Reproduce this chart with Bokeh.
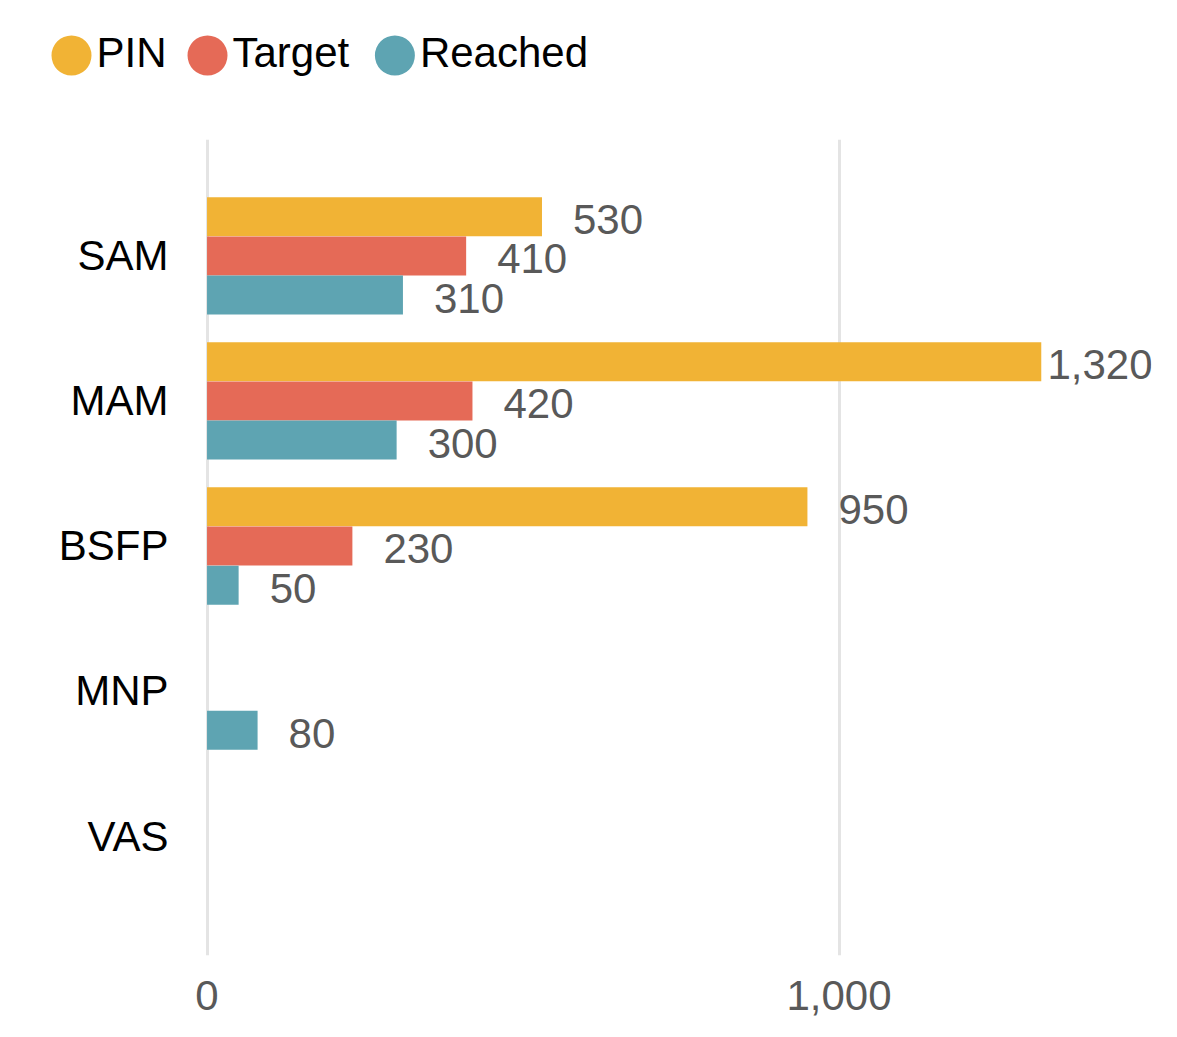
import numpy as np
from bokeh.plotting import figure
from bokeh.layouts import column
from bokeh.models import ColumnDataSource, Range1d, FixedTicker, NumeralTickFormatter
from bokeh.core.properties import value
from bokeh.embed import file_html
from bokeh.resources import INLINE

# ---- data ----
categories = ["SAM", "MAM", "BSFP", "MNP", "VAS"]
pin = [530, 1320, 950, np.nan, np.nan]
target = [410, 420, 230, np.nan, np.nan]
reached = [310, 300, 50, 80, np.nan]
series_names = ["PIN", "Target", "Reached"]
series_colors = ["#F1B335", "#E56A57", "#5EA4B2"]
x_ticks = [0, 1000]

FONT = "Liberation Sans"
FS = 42
W, H = 1161, 1021
LEG_H = 131
BORDER_L, BORDER_R, BORDER_T, BORDER_B = 204, 10, 8, 66
PX_PER_UNIT = 0.632
X_START = -4
frame_w = W - BORDER_L - BORDER_R
X_END = X_START + frame_w / PX_PER_UNIT

# approximate Arial / Liberation Sans advance widths (em)
ADV = {",": 0.278, "P": 0.667, "I": 0.278, "N": 0.722, "T": 0.611, "R": 0.722,
       "a": 0.556, "r": 0.333, "g": 0.556, "e": 0.556, "t": 0.278, "c": 0.5,
       "h": 0.556, "d": 0.556}


def text_w(s):
    return sum(ADV.get(c, 0.556) for c in s) * FS


# ---- legend strip (pixel-unit ranges) ----
lf = figure(width=W, height=LEG_H, output_backend="svg", toolbar_location=None,
            x_range=Range1d(0, W), y_range=Range1d(LEG_H, 0),
            x_axis_type=None, y_axis_type=None,
            min_border_left=0, min_border_right=0, min_border_top=0, min_border_bottom=0)
lf.frame_align = False
lf.outline_line_color = None
lf.xgrid.visible = False
lf.ygrid.visible = False

LEG_X0, LEG_Y, DOT, GAP_IN, GAP_OUT = 71, 55, 40, 25, 41
dot_x, lab_x = [], []
cursor = LEG_X0
for name in series_names:
    dot_x.append(cursor)
    lab_x.append(cursor + GAP_IN)
    cursor += GAP_IN + text_w(name) + GAP_OUT
leg_src = ColumnDataSource(dict(dx=dot_x, lx=lab_x, y=[LEG_Y] * len(series_names),
                                name=series_names, color=series_colors))
lf.scatter(x="dx", y="y", size=DOT, marker="circle", fill_color="color",
           line_color=None, source=leg_src)
lf.text(x="lx", y="y", text="name", y_offset=-3, source=leg_src,
        text_font=value(FONT), text_font_size=value(f"{FS}px"), text_color="#000000",
        text_align="left", text_baseline="middle")

# ---- main chart ----
p = figure(width=W, height=H - LEG_H, output_backend="svg", toolbar_location=None,
           x_range=Range1d(X_START, X_END), y_range=Range1d(4.824, -0.803),
           min_border_left=BORDER_L, min_border_right=BORDER_R,
           min_border_top=BORDER_T, min_border_bottom=BORDER_B)
p.outline_line_color = None
p.background_fill_color = "white"
p.border_fill_color = "white"

pos = np.arange(len(categories), dtype=float)
bar_h = 0.269
offsets = [-0.27, 0.0, 0.27]
series_vals = [pin, target, reached]

limit_px = frame_w + 1

for name, color, vals, off in zip(series_names, series_colors, series_vals, offsets):
    v = np.array(vals, dtype=float)
    labels = ["" if np.isnan(x) else "{:,.0f}".format(x) for x in v]
    xoffs = []
    for x, lab in zip(v, labels):
        if np.isnan(x):
            xoffs.append(0)
        else:
            end = (x - X_START) * PX_PER_UNIT
            xoffs.append(min(31, limit_px - end - text_w(lab)))
    src = ColumnDataSource(dict(y=pos + off, v=v, lab=labels, xo=xoffs))
    p.hbar(y="y", right="v", left=0, height=bar_h, color=color, line_color=None, source=src)
    p.text(x="v", y="y", text="lab", x_offset="xo", y_offset=3, source=src,
           text_font=value(FONT), text_font_size=value(f"{FS}px"), text_color="#595959",
           text_align="left", text_baseline="middle")

# axes
p.xaxis.ticker = FixedTicker(ticks=x_ticks)
p.xaxis.formatter = NumeralTickFormatter(format="0,0")
p.xaxis.axis_line_color = None
p.xaxis.major_tick_line_color = None
p.xaxis.minor_tick_line_color = None
p.xaxis.major_label_standoff = 19
p.xaxis.major_label_text_font = FONT
p.xaxis.major_label_text_font_size = f"{FS}px"
p.xaxis.major_label_text_color = "#595959"

p.yaxis.ticker = FixedTicker(ticks=list(range(len(categories))))
p.yaxis.major_label_overrides = {i: c for i, c in enumerate(categories)}
p.yaxis.axis_line_color = None
p.yaxis.major_tick_line_color = None
p.yaxis.minor_tick_line_color = None
p.yaxis.major_label_standoff = 30
p.yaxis.major_label_text_font = FONT
p.yaxis.major_label_text_font_size = f"{FS}px"
p.yaxis.major_label_text_color = "#000000"

p.xgrid.ticker = FixedTicker(ticks=x_ticks)
p.xgrid.grid_line_color = "#E4E4E4"
p.xgrid.grid_line_width = 3
p.ygrid.grid_line_color = None

layout = column(lf, p, spacing=0)
open("out.html", "w").write(file_html(layout, INLINE))
